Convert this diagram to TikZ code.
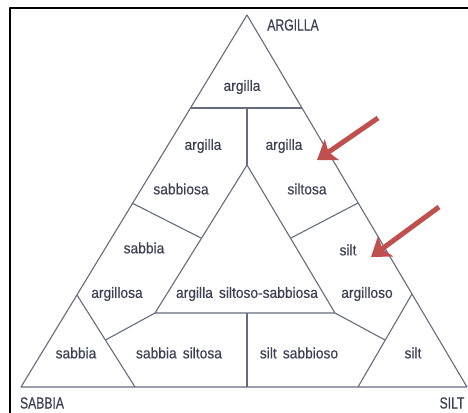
\documentclass[tikz,border=0pt]{standalone}
\usepackage{fontspec}
\usetikzlibrary{arrows.meta}
\newfontfamily\lowfont[FakeStretch=0.92,FakeBold=0.4,WordSpace=1.6]{Liberation Sans}
\newfontfamily\capfont[FakeStretch=0.76,FakeBold=0.4]{Liberation Sans}
\definecolor{inkc}{HTML}{3C4055}
\definecolor{linec}{HTML}{666C7E}
\definecolor{arrc}{HTML}{C0504D}
\begin{document}
\begin{tikzpicture}[
        x=1pt, y=-1pt,
        line join=round
    ]
    \tikzset{
        lab/.style = {inner sep=0pt, text=inkc, font=\lowfont\fontsize{15}{17}\selectfont},
        caplab/.style = {inner sep=0pt, text=inkc, font=\capfont\fontsize{16}{18}\selectfont},
        edgen/.style = {-, line width=1.1pt, linec},
        edgef/.style = {-, line width=2.8pt, black},
        edgea/.style = {-{Stealth[length=18pt,width=25pt,inset=4pt]}, line width=5pt, arrc},
    }
    \useasboundingbox (0,0) rectangle (468,412);
    % frame
    \coordinate (fb) at (10,413);
    \coordinate (fc) at (10,8);
    \coordinate (fr) at (469,8);
    \draw[edgef] (fb) -- (fc) -- (fr);
    % corners of the triangle
    \coordinate (a) at (247,15);
    \coordinate (l) at (21,387);
    \coordinate (r) at (467,387);
    % inner points
    \coordinate (tl) at (190.5,108);
    \coordinate (tr) at (302,108);
    \coordinate (tm) at (247,108);
    \coordinate (c) at (247,165);
    \coordinate (il) at (155,313);
    \coordinate (ir) at (335,313);
    \coordinate (im) at (247,313);
    \coordinate (bm) at (247,387);
    \coordinate (pl) at (132,203);
    \coordinate (ql) at (201,238);
    \coordinate (pr) at (358,203);
    \coordinate (qr) at (291,238);
    \coordinate (sl) at (77,295);
    \coordinate (sb) at (135,387);
    \coordinate (sm) at (105.5,340);
    \coordinate (rl) at (412,294);
    \coordinate (rb) at (358,387);
    \coordinate (rm) at (385,340);
    %
    \draw[edgen] (a) -- (l) -- (r) -- cycle;
    \draw[edgen] (tl) -- (tr);
    \draw[edgen] (tm) -- (c);
    \draw[edgen] (il) -- (c) -- (ir) -- cycle;
    \draw[edgen] (pl) -- (ql);
    \draw[edgen] (pr) -- (qr);
    \draw[edgen] (sl) -- (sb);
    \draw[edgen] (il) -- (sm);
    \draw[edgen] (rl) -- (rb);
    \draw[edgen] (ir) -- (rm);
    \draw[edgen] (im) -- (bm);
    %
    \node[caplab] at (293,25) (argcap) {ARGILLA};
    \node[caplab] at (42,403) (sabcap) {SABBIA};
    \node[caplab] at (452,403) (silcap) {SILT};
    %
    \node[lab] at (242,87) (arg) {argilla};
    \node[lab] at (203,146) (argsa) {argilla};
    \node[lab] at (181,189) (sabbiosa) {sabbiosa};
    \node[lab] at (284,146) (argsi) {argilla};
    \node[lab] at (307,189) (siltosa) {siltosa};
    \node[lab] at (144,248) (sabarg) {sabbia};
    \node[lab] at (117,294) (argillosa) {argillosa};
    \node[lab] at (348,250) (silarg) {silt};
    \node[lab] at (367,294) (argilloso) {argilloso};
    \node[lab] at (247,294) (argss) {argilla siltoso-sabbiosa};
    \node[lab] at (76,353) (sab) {sabbia};
    \node[lab] at (179,353) (sabsil) {sabbia siltosa};
    \node[lab] at (299,353) (silsab) {silt sabbioso};
    \node[lab] at (413,353) (sil) {silt};
    %
    \coordinate (a1s) at (378,118);
    \coordinate (a1e) at (317,160);
    \coordinate (a2s) at (439,207);
    \coordinate (a2e) at (371,257);
    \draw[edgea] (a1s) -- (a1e);
    \draw[edgea] (a2s) -- (a2e);
\end{tikzpicture}
\end{document}
